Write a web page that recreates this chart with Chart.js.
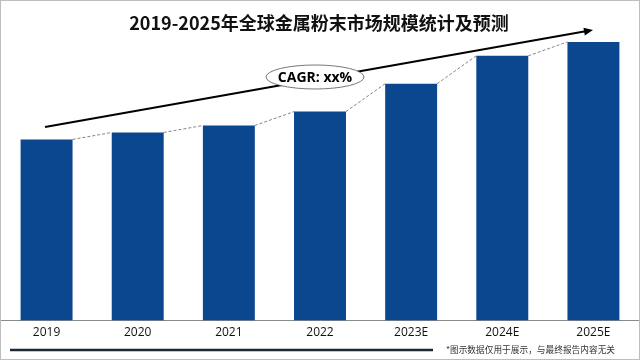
<!DOCTYPE html>
<html>
<head>
<meta charset="utf-8">
<script src="https://cdn.jsdelivr.net/npm/chart.js@4.4.1/dist/chart.umd.min.js"></script>
<style>
  html, body { margin: 0; padding: 0; background: #fff; }
  #wrap { position: relative; width: 640px; height: 360px; box-sizing: border-box; border: 1px solid #bdbdbd; }
  canvas { display: block; }
</style>
</head>
<body>
<div id="wrap"><canvas id="chart" width="638" height="358"></canvas></div>
<script>
// 年份与市场规模（示意数据，单位任意）
const years = ["2019", "2020", "2021", "2022", "2023E", "2024E", "2025E"];
const marketSize = [182, 189, 196, 210, 238, 266, 280];

const titleText = "2019-2025年全球金属粉末市场规模统计及预测";
const cagrText = "CAGR: xx%";
const noteText = "*图示数据仅用于展示，与最终报告内容无关";

// 标题、趋势箭头、CAGR 椭圆、柱顶虚线、底部说明
const decor = {
  id: "decor",
  afterDatasetsDraw(chart) {
    const ctx = chart.ctx;
    const bars = chart.getDatasetMeta(0).data;

    // 柱顶之间的虚线
    ctx.save();
    ctx.strokeStyle = "#666";
    ctx.lineWidth = 0.8;
    ctx.setLineDash([3, 2]);
    for (let i = 0; i < bars.length - 1; i++) {
      const a = bars[i], b = bars[i + 1];
      ctx.beginPath();
      ctx.moveTo(a.x + a.width / 2, a.y);
      ctx.lineTo(b.x - b.width / 2, b.y);
      ctx.stroke();
    }
    ctx.restore();

    // 趋势箭头
    const x0 = 44, y0 = 126, x1 = 592, y1 = 29;
    ctx.save();
    ctx.strokeStyle = "#000";
    ctx.fillStyle = "#000";
    ctx.lineWidth = 2;
    ctx.beginPath();
    ctx.moveTo(x0, y0);
    ctx.lineTo(x1 - 6, y1 + 1.1);
    ctx.stroke();
    const ang = Math.atan2(y1 - y0, x1 - x0);
    ctx.beginPath();
    ctx.moveTo(x1, y1);
    ctx.lineTo(x1 - 9 * Math.cos(ang) + 4 * Math.sin(ang), y1 - 9 * Math.sin(ang) - 4 * Math.cos(ang));
    ctx.lineTo(x1 - 9 * Math.cos(ang) - 4 * Math.sin(ang), y1 - 9 * Math.sin(ang) + 4 * Math.cos(ang));
    ctx.closePath();
    ctx.fill();

    // CAGR 椭圆
    ctx.beginPath();
    ctx.ellipse(314, 76, 49, 12, 0, 0, Math.PI * 2);
    ctx.fillStyle = "#fff";
    ctx.fill();
    ctx.lineWidth = 0.8;
    ctx.strokeStyle = "#555";
    ctx.stroke();
    ctx.fillStyle = "#000";
    ctx.font = "bold 14px 'Open Sans', 'Noto Sans', sans-serif";
    ctx.textAlign = "center";
    ctx.textBaseline = "middle";
    ctx.fillText(cagrText, 314, 77);
    ctx.restore();
  },
  afterDraw(chart) {
    const ctx = chart.ctx;
    ctx.save();
    // 标题
    ctx.fillStyle = "#111";
    ctx.font = "bold 18px 'Noto Sans CJK SC', 'Noto Sans', sans-serif";
    ctx.textAlign = "center";
    ctx.textBaseline = "middle";
    ctx.fillText(titleText, 318, 22);

    // 底部深色线
    ctx.strokeStyle = "#1b2836";
    ctx.lineWidth = 2.5;
    ctx.beginPath();
    ctx.moveTo(9, 349);
    ctx.lineTo(432, 349);
    ctx.stroke();

    // 说明文字
    ctx.fillStyle = "#333";
    ctx.font = "8.7px 'Noto Sans CJK SC', sans-serif";
    ctx.textAlign = "right";
    ctx.fillText(noteText, 614, 349);
    ctx.restore();
  }
};

new Chart(document.getElementById("chart"), {
  type: "bar",
  data: {
    labels: years,
    datasets: [{
      data: marketSize,
      backgroundColor: "#0b478f",
      borderWidth: 0,
      categoryPercentage: 1,
      barPercentage: 0.57
    }]
  },
  options: {
    responsive: false,
    animation: false,
    layout: { padding: { left: 0, right: -2, top: 21, bottom: 14 } },
    plugins: { legend: { display: false }, tooltip: { enabled: false } },
    scales: {
      x: {
        grid: { display: false, drawTicks: false },
        border: { display: true, color: "#8a8a8a", width: 1 },
        ticks: { color: "#111", font: { size: 12, family: "'Open Sans', 'Noto Sans', sans-serif" }, padding: 5 }
      },
      y: {
        display: false,
        min: 0,
        max: 300
      }
    }
  },
  plugins: [decor]
});
</script>
</body>
</html>
